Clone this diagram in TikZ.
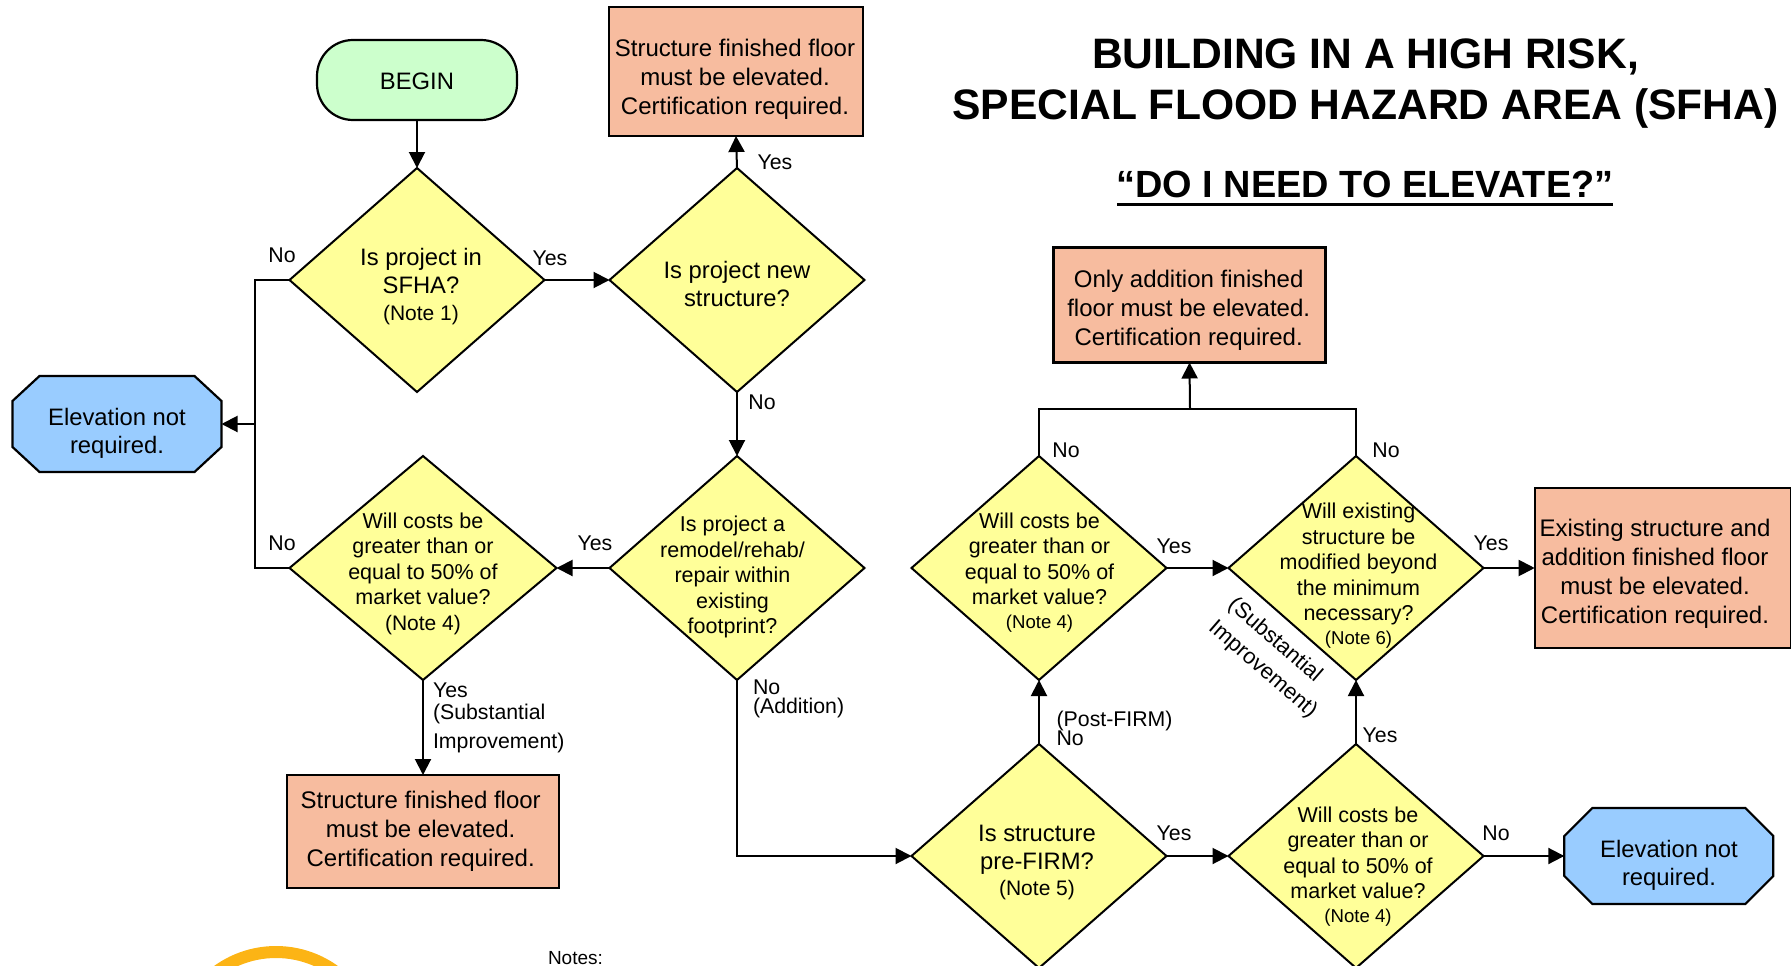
\documentclass[tikz,border=0pt]{standalone}
\usepackage{fontspec}
\setmainfont{Liberation Sans}
\usetikzlibrary{shapes.geometric,arrows.meta}
\newcommand{\fs}[2]{\fontsize{#1}{#2}\selectfont}
\newcommand{\nta}[1]{{\fs{21}{26}#1}}
\newcommand{\ntb}[1]{{\fs{18.6}{25}#1}}
\definecolor{dia}{HTML}{FFFF99}
\definecolor{sal}{HTML}{F7BC9F}
\definecolor{sky}{HTML}{99CCFF}
\definecolor{mint}{HTML}{CCFFCC}
\definecolor{gold}{HTML}{FCB415}
\tikzset{
  decision/.style={draw=black,line width=2pt,fill=dia,diamond,inner sep=0pt,outer sep=0pt,minimum width=255pt,minimum height=224pt,aspect=1.14},
  result/.style={draw=black,line width=2.2pt,fill=sal,rectangle,inner sep=0pt,outer sep=0pt},
  stopshape/.style={draw=black,line width=2.2pt,fill=sky,line join=miter},
  stopbox/.style={rectangle,inner sep=0pt,outer sep=0pt,minimum width=209pt,minimum height=96pt},
  startbox/.style={draw=black,line width=2.2pt,fill=mint,rectangle,rounded corners=36pt,inner sep=0pt,outer sep=0pt,minimum width=200pt,minimum height=80pt},
  txt/.style={inner sep=0pt,outer sep=0pt,align=center,text=black},
  big/.style={txt,font=\fs{24}{29}},
  mid/.style={txt,font=\fs{23.8}{28.3}},
  sma/.style={txt,font=\fs{21.5}{25.5}},
  lab/.style={inner sep=0pt,outer sep=0pt,font=\fs{21.3}{25},text=black},
  conn/.style={draw=black,line width=2pt},
  arr/.style={conn,-{Triangle[length=16pt,width=16pt]}},
  head/.style={inner sep=0pt,outer sep=0pt,font=\bfseries\fs{42.6}{51},align=center}
}
\begin{document}
\begin{tikzpicture}[x=1pt,y=-1pt]
\useasboundingbox (0,0) rectangle (1791,966);
\begin{scope}
\clip (0,0) rectangle (1791,966);
% logo fragment
\draw[gold,line width=12pt] (276,1052) circle[radius=100];
% shapes
\node[startbox] (begin) at (417,80) {};
\node[decision] (q1) at (417,280) {};
\node[decision] (q2) at (737,280) {};
\node[decision] (q3) at (737,568) {};
\node[decision,minimum width=267pt] (q4) at (423,568) {};
\node[decision] (q5) at (1039,856) {};
\node[decision] (q6) at (1356,856) {};
\node[decision] (q7) at (1039,568) {};
\node[decision] (q8) at (1356,568) {};
\node[result,minimum width=254pt,minimum height=129pt] (r1) at (736,71.5) {};
\node[result,minimum width=272pt,minimum height=115pt] (r2) at (1189.5,305) {};
\node[result,minimum width=271.5pt,minimum height=113pt] (r3) at (423,831.5) {};
\node[result,minimum width=256pt,minimum height=160pt] (r4) at (1662.7,568) {};
\draw[stopshape] (39.5,376) -- (194.5,376) -- (221.5,401) -- (221.5,447) -- (194.5,472) -- (39.5,472) -- (12.5,447) -- (12.5,401) -- cycle;
\draw[stopshape] (1592.3,808) -- (1745.3,808) -- (1773.3,836) -- (1773.3,876) -- (1745.3,904) -- (1592.3,904) -- (1564.3,876) -- (1564.3,836) -- cycle;
\node[stopbox] (e1) at (117,424) {};
\node[stopbox] (e2) at (1668.8,856) {};
% connectors
\coordinate (jl) at (255,424);
\coordinate (jt) at (1190,408.7);
\draw[arr] (begin.south) -- (q1.north);
\draw[arr] (q1.east) -- (q2.west);
\draw[arr] (q2.north) -- (r1.south);
\draw[arr] (q2.south) -- (q3.north);
\draw[conn] (q1.west) -| (jl);
\draw[conn] (jl) |- (q4.west);
\draw[arr] (jl) -- (e1.east);
\draw[arr] (q3.west) -- (q4.east);
\draw[arr] (q4.south) -- (r3.north);
\draw[arr] (q3.south) |- (q5.west);
\draw[arr] (q5.north) -- (q7.south);
\draw[arr] (q5.east) -- (q6.west);
\draw[arr] (q6.north) -- (q8.south);
\draw[arr] (q6.east) -- (e2.west);
\draw[arr] (q7.east) -- (q8.west);
\draw[arr] (q8.east) -- (r4.west);
\draw[conn] (q7.north) |- (jt);
\draw[conn] (q8.north) |- (jt);
\draw[arr] (jt) -- (r2.south);
% texts of shapes
\node[mid] (begint) at (417,81) {BEGIN};
\node[mid] (q1t) at (421,286.5) {Is project in\\SFHA?\\[-2pt]\nta{(Note 1)}};
\node[mid] (q2t) at (737,284) {Is project new\\structure?};
\node[sma] (q3t) at (732.5,577) {Is project a\\remodel/rehab/\\repair within\\existing\\footprint?};
\node[sma] (q4t) at (423,573.8) {Will costs be\\greater than or\\equal to 50\% of\\market value?\\\nta{(Note 4)}};
\node[mid] (q5t) at (1037,862.5) {Is structure\\pre-FIRM?\\[-2pt]\nta{(Note 5)}};
\node[sma] (q6t) at (1358,866.5) {Will costs be\\greater than or\\equal to 50\% of\\market value?\\[-2pt]\ntb{(Note 4)}};
\node[sma] (q7t) at (1039.5,572.5) {Will costs be\\greater than or\\equal to 50\% of\\market value?\\[-2pt]\ntb{(Note 4)}};
\node[sma] (q8t) at (1358.5,575.5) {Will existing\\structure be\\modified beyond\\the minimum\\necessary?\\[-2pt]\ntb{(Note 6)}};
\node[big] (r1t) at (735,79.5) {Structure finished floor\\must be elevated.\\Certification required.};
\node[big] (r2t) at (1188.7,310.5) {Only addition finished\\floor must be elevated.\\Certification required.};
\node[big] (r3t) at (420.7,831.5) {Structure finished floor\\must be elevated.\\Certification required.};
\node[big] (r4t) at (1655,573.5) {Existing structure and\\addition finished floor\\must be elevated.\\Certification required.};
\node[mid] (e1t) at (117,433.5) {Elevation not\\required.};
\node[mid] (e2t) at (1669,865) {Elevation not\\required.};
% edge labels
\node[lab] (l1) at (282,255) {No};
\node[lab] (l2) at (550,258) {Yes};
\node[lab] (l3) at (775,162) {Yes};
\node[lab] (l4) at (762,402) {No};
\node[lab] (l5) at (282,543) {No};
\node[lab] (l6) at (595,543) {Yes};
\node[lab,anchor=west] (l7) at (433,690) {Yes};
\node[lab,anchor=west] (l8) at (433,714) {(Substantial};
\node[lab,anchor=west] (l9) at (433,743) {Improvement)};
\node[lab,anchor=west] (l10) at (753,687) {No};
\node[lab,anchor=west] (l11) at (753,708) {(Addition)};
\node[lab,anchor=west] (l12) at (1056.6,720.5) {(Post-FIRM)};
\node[lab,anchor=west] (l13) at (1056.6,738) {No};
\node[lab] (l14) at (1174,833.5) {Yes};
\node[lab] (l15) at (1174,546.7) {Yes};
\node[lab] (l16) at (1066,450) {No};
\node[lab] (l17) at (1386,450) {No};
\node[lab] (l18) at (1491,543.7) {Yes};
\node[lab] (l19) at (1496,833.5) {No};
\node[lab] (l20) at (1380,735) {Yes};
\node[lab,align=center,rotate=-41,font=\fs{22}{30}] (l21) at (1272.5,658.5) {(Substantial\hspace*{20pt}\\Improvement)};
% titles
\node[head] (t1) at (1365.5,84) {BUILDING IN A HIGH RISK,\\SPECIAL FLOOD HAZARD AREA (SFHA)};
\node[head,font=\bfseries\fs{37.9}{44}] (t2) at (1365,184) {“DO I NEED TO ELEVATE?”};
\draw[black,line width=3pt] (1117,204) -- (1613,204);
\node[lab,anchor=base west,font=\fs{19}{23}] (n1) at (548,964) {Notes:};
\end{scope}
\end{tikzpicture}
\end{document}
